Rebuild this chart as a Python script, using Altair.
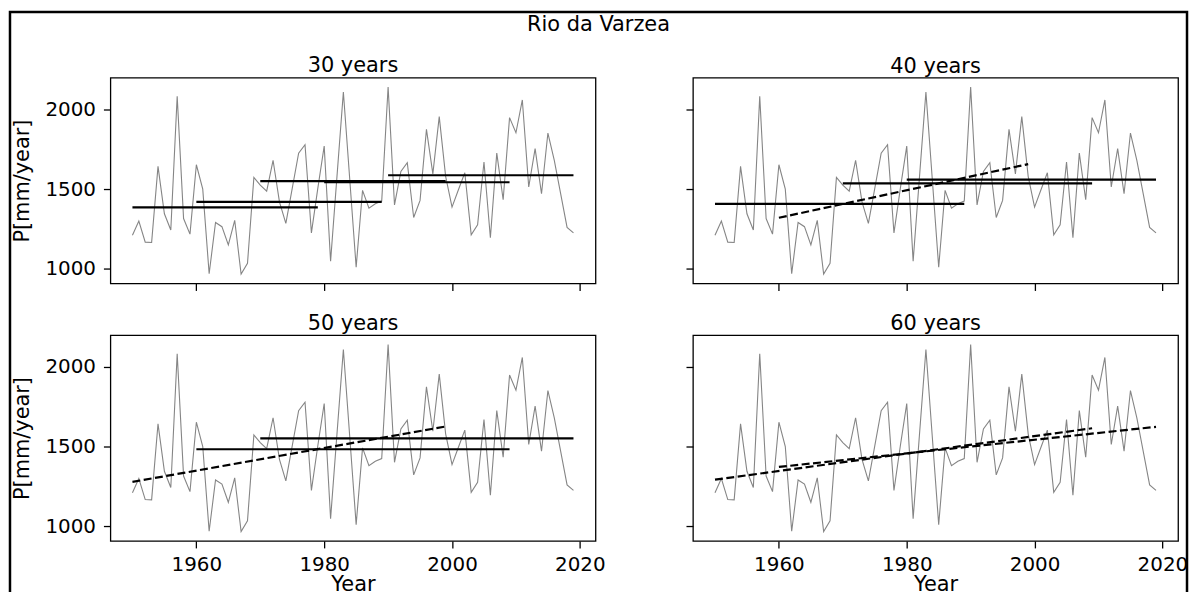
import altair as alt
import pandas as pd

# ---- data ----
years = list(range(1950, 2020))
precip = [
    1210, 1299, 1167, 1165, 1643, 1345, 1243, 2083, 1315, 1217,
    1653, 1500, 968, 1290, 1264, 1150, 1304, 966, 1034, 1573,
    1525, 1487, 1681, 1420, 1285, 1505, 1725, 1779, 1225, 1505,
    1770, 1047, 1580, 2110, 1560, 1010, 1492, 1380, 1408, 1425,
    2141, 1401, 1611, 1666, 1322, 1429, 1875, 1596, 1955, 1580,
    1387, 1496, 1603, 1213, 1276, 1670, 1194, 1726, 1433, 1949,
    1854, 2060, 1513, 1754, 1471, 1852, 1680, 1470, 1259, 1225,
]

panels = ["30 years", "40 years", "50 years", "60 years"]

# window means (solid horizontal segments)
mean_panel = ["30 years"] * 5 + ["40 years"] * 3 + ["50 years"] * 2
mean_start = [1950, 1960, 1970, 1980, 1990, 1950, 1970, 1980, 1960, 1970]
mean_end = [1979, 1989, 1999, 2009, 2019, 1989, 2009, 2019, 2009, 2019]
mean_value = [1385, 1420, 1550, 1543, 1587, 1407, 1536, 1560, 1483, 1552]

# trend lines (dashed segments)
trend_panel = ["40 years", "50 years", "60 years", "60 years"]
trend_start = [1960, 1950, 1950, 1960]
trend_end = [1999, 1999, 2009, 2019]
trend_v0 = [1320, 1278, 1292, 1372]
trend_v1 = [1657, 1626, 1615, 1624]

x_ticks = [1960, 1980, 2000, 2020]
y_ticks = [1000, 1500, 2000]

series = pd.DataFrame({"year": years, "P": precip})
means = pd.DataFrame({"panel": mean_panel, "year": mean_start,
                      "year_end": mean_end, "P": mean_value})
trends = pd.DataFrame({"panel": trend_panel, "year": trend_start,
                       "year_end": trend_end, "P": trend_v0, "P_end": trend_v1})

# matplotlib-like 5% margins
xr = max(years) - min(years)
x_dom = [min(years) - 0.05 * xr, max(years) + 0.05 * xr]
yr = max(precip) - min(precip)
y_dom = [min(precip) - 0.05 * yr, max(precip) + 0.05 * yr]

xs = alt.Scale(domain=x_dom, nice=False, zero=False)
ys = alt.Scale(domain=y_dom, nice=False, zero=False)

W, H = 488, 207
FONT = "DejaVu Sans"


def panel(name, bottom, left, frame=False):
    if bottom:
        xaxis = alt.Axis(values=x_ticks, format="d", labels=True, title="Year",
                         titleBaseline="alphabetic", titleY=50)
    else:
        xaxis = alt.Axis(values=x_ticks, format="d", labels=False, title=None)
    if left:
        yaxis = alt.Axis(values=y_ticks, format="d", labels=True,
                         title="P[mm/year]", titlePadding=12)
    else:
        yaxis = alt.Axis(values=y_ticks, format="d", labels=False, title=None)
    X = lambda f: alt.X(f, type="quantitative", scale=xs, axis=xaxis)
    Y = lambda f: alt.Y(f, type="quantitative", scale=ys, axis=yaxis)

    line = alt.Chart(series).mark_line(color="#858585", strokeWidth=1.1).encode(
        x=X("year"), y=Y("P"))
    mrule = alt.Chart(means).transform_filter(alt.datum.panel == name).mark_rule(
        color="black", strokeWidth=2.2).encode(
        x=X("year"), x2="year_end", y=Y("P"))
    trule = alt.Chart(trends).transform_filter(alt.datum.panel == name).mark_rule(
        color="black", strokeWidth=2.2, strokeDash=[8, 3.5]).encode(
        x=X("year"), x2="year_end", y=Y("P"), y2="P_end")
    layers = [line, mrule, trule]
    offset = 1
    if frame:
        # decorative figure border (drawn from the first panel)
        border = alt.Chart(alt.Data(values=[{"k": 1}])).mark_rect(
            fillOpacity=0, stroke="black", strokeWidth=2.5).encode(
            x=alt.value(-101), x2=alt.value(1083),
            y=alt.value(-66), y2=alt.value(640))
        layers.append(border)
        offset = -65.6
    return alt.layer(*layers).properties(
        width=W, height=H,
        title=alt.TitleParams(name, fontSize=21, fontWeight="normal",
                              font=FONT, offset=offset, color="black"))


tl = panel("30 years", bottom=False, left=True, frame=True)
tr = panel("40 years", bottom=False, left=False)
bl = panel("50 years", bottom=True, left=True)
br = panel("60 years", bottom=True, left=False)

chart = alt.concat(
    tl, tr, bl, br, columns=2,
    spacing={"row": 52, "column": 98}, bounds="flush",
).properties(
    title=alt.TitleParams("Rio da Varzea", fontSize=21, fontWeight="normal",
                          font=FONT, anchor="middle", offset=-25, color="black"),
    padding=0,
).configure(font=FONT).configure_view(
    stroke="black", strokeWidth=1.3
).configure_axis(
    domain=False, grid=False, tickColor="black", tickSize=7, tickWidth=1.3,
    labelFontSize=20, labelColor="black", labelFont=FONT,
    titleFontSize=21, titleFontWeight="normal", titleColor="black", titleFont=FONT,
).configure_axisX(labelPadding=7).configure_axisY(labelPadding=8)

chart.save("out.html", embed_options={"renderer": "svg", "actions": False})
